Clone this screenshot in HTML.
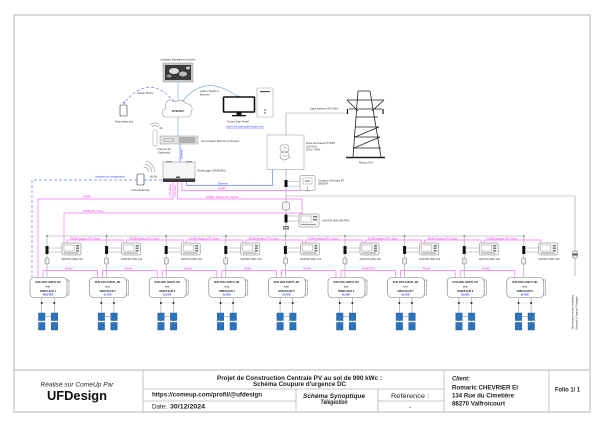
<!DOCTYPE html>
<html><head><meta charset="utf-8"><style>
html,body{margin:0;padding:0;background:#fff}
svg{display:block}
text{font-family:"Liberation Sans",Arial,sans-serif}
.t{font-size:2.5px;fill:#333}
.tc{font-size:2.5px;fill:#333;text-anchor:middle}
.pk{font-size:2.5px;fill:#e040e0}
.bl{font-size:2.6px;fill:#3040ff}
.g{stroke:#9a9a9a;stroke-width:.6;fill:none}
.p{stroke:#ff70ff;stroke-width:.7;fill:none}
.b{stroke:#6a7cff;stroke-width:.7;fill:none}
.tb{font-size:6px;fill:#222}
</style></head><body>
<svg width="605" height="427" viewBox="0 0 605 427" xmlns="http://www.w3.org/2000/svg">
<defs>
<g id="inv">
  <circle cx="17" cy="236" r=".8" fill="#333"/>
  <line x1="17" y1="236" x2="17" y2="277" stroke="#9a9a9a" stroke-width=".6"/>
  <rect x="15.5" y="246" width="3" height="8" fill="#111"/>
  <path d="M18.5 248H32M18.5 252H32" stroke="#999" stroke-width=".5"/>
  <rect x="32" y="243" width="19" height="12" rx="1.5" fill="#f7f7f7" stroke="#777" stroke-width=".5"/>
  <rect x="34" y="245" width="10" height="6" fill="#fff" stroke="#888" stroke-width=".4"/>
  <rect x="46" y="245" width="3" height="1.5" fill="#777"/>
  <rect x="46" y="247.5" width="3" height="1.5" fill="#777"/>
  <rect x="46" y="250" width="3" height="1.5" fill="#777"/>
  <rect x="34" y="252.5" width="14" height="1" fill="#999"/>
  <rect x="15" y="258" width="4" height="6" rx="1" fill="#eee" stroke="#666" stroke-width=".5"/>
  <rect x="0" y="277.5" width="37" height="20" rx="4" fill="#fff" stroke="#777" stroke-width=".6"/>
  <path d="M36 280h3v15h-3" fill="none" stroke="#777" stroke-width=".5"/>
  <path d="M11.7 297.5V330M24.3 297.5V330" class="g"/>
  <circle cx="11.7" cy="303" r="1" fill="#222"/>
  <circle cx="24.3" cy="303" r="1" fill="#222"/>
  <path d="M13.5 303H22.5" stroke="#888" stroke-width=".4" stroke-dasharray="1,1"/>
  <rect x="8.5" y="313" width="6.5" height="7.5" fill="#2b73bd" stroke="#17508c" stroke-width=".4"/>
  <rect x="8.5" y="322.5" width="6.5" height="7.5" fill="#2b73bd" stroke="#17508c" stroke-width=".4"/>
  <rect x="21.2" y="313" width="6.5" height="7.5" fill="#2b73bd" stroke="#17508c" stroke-width=".4"/>
  <rect x="21.2" y="322.5" width="6.5" height="7.5" fill="#2b73bd" stroke="#17508c" stroke-width=".4"/>
  <path d="M15 316.5H21.2" class="g"/>
</g>
</defs>

<!-- frame -->
<rect x="14" y="15" width="576" height="397" fill="none" stroke="#b5b5b5" stroke-width="1"/>
<line x1="14" y1="370" x2="590" y2="370" stroke="#b5b5b5" stroke-width="1"/>

<!-- top network -->
<text x="178" y="60.5" class="tc" font-size="2.4">Intelligent Management System</text>
<rect x="163" y="63" width="30" height="19" fill="#c8c8c8" stroke="#999" stroke-width=".5"/>
<rect x="165" y="65" width="26" height="15" fill="#3a3a3a"/>
<ellipse cx="174" cy="71" rx="5" ry="3" fill="#ddd"/>
<ellipse cx="183" cy="74" rx="4" ry="2.5" fill="#bbb"/>
<ellipse cx="169" cy="76" rx="2.5" ry="1.5" fill="#999"/>
<ellipse cx="188" cy="68" rx="2" ry="1.5" fill="#ccc"/>
<line x1="178" y1="82" x2="178" y2="101" stroke="#8fb3e6" stroke-width=".7"/>

<path d="M165 117A4.5 4.5 0 0 1 166 108.5A6 6 0 0 1 176 102A6 6 0 0 1 186 104A5 5 0 0 1 191 112A4 4 0 0 1 188 117Z" fill="#fff" stroke="#999" stroke-width=".6"/>
<text x="178" y="112" class="tc" font-size="2.4" font-weight="bold">INTERNET</text>

<path d="M174 102Q150 72 124 103" class="b" stroke-dasharray="3,2"/>
<path d="M122.6 101.5L124 104.5 125.6 102Z" fill="#6a7cff"/>
<text x="145" y="94" class="tc">Liaison WLAN</text>
<path d="M182 102Q205 72 238 97" stroke="#7da7e0" stroke-width=".7" fill="none"/>
<path d="M236.3 96.5L238.8 98.3 238.6 95.4Z" fill="#3050b0"/>
<text x="200" y="92" class="t">Liaison WLAN ou</text>
<text x="200" y="95.5" class="t">Ethernet</text>

<rect x="120" y="105" width="7" height="11" rx="1" fill="#fff" stroke="#333" stroke-width=".6"/>
<text x="124" y="122.5" class="tc">FusionSolar App</text>

<rect x="223.5" y="97" width="31" height="15" rx=".8" fill="#fff" stroke="#111" stroke-width="1.6"/>
<rect x="236.5" y="112.5" width="5" height="2.5" fill="#111"/>
<rect x="232" y="115" width="14" height="1.3" fill="#111"/>
<text x="238" y="122.5" class="tc">Fusion Solar Portail</text>
<text x="245" y="127.5" class="tc" fill="#2f3bff" style="fill:#2f3bff;text-decoration:underline">https://intl.fusionsolar.huawei.com</text>
<rect x="257" y="88" width="16" height="29" rx="1" fill="#fff" stroke="#a5a5a5" stroke-width=".6"/>
<rect x="260" y="91" width="10" height="1.2" fill="#555"/>
<circle cx="265" cy="110" r=".7" fill="#333"/>
<circle cx="265" cy="113" r=".7" fill="#333"/>

<line x1="178" y1="117" x2="178" y2="136" stroke="#8fb3e6" stroke-width=".7"/>
<rect x="160" y="136" width="38" height="8" fill="#e2e2e2" stroke="#999" stroke-width=".5"/>
<rect x="164" y="138.5" width="10" height="3" rx="1.5" fill="none" stroke="#888" stroke-width=".4"/>
<rect x="179" y="137.5" width="16" height="5" fill="#bdbdbd" stroke="#777" stroke-width=".3"/>
<path d="M181 137.5v5M183 137.5v5M185 137.5v5M187 137.5v5M189 137.5v5M191 137.5v5M193 137.5v5" stroke="#666" stroke-width=".3"/>
<text x="201" y="142" class="t">Commutateur Ethernet ou Routeur</text>

<path d="M150.5 125a6 6 0 0 1 9 0M152 127a3.6 3.6 0 0 1 6 0" fill="none" stroke="#aaa" stroke-width=".8"/>
<text x="159.5" y="129" class="t" font-size="2">4G</text>
<rect x="153" y="130" width="4" height="16" rx="1.5" fill="#fff" stroke="#999" stroke-width=".5"/>
<text x="164" y="150" class="tc">Antenne 4G</text>
<text x="164" y="153.3" class="tc">(Optionnel)</text>

<line x1="180" y1="144" x2="180" y2="162" class="b"/>
<text transform="translate(182.3 159) rotate(-90)" class="bl" font-size="2.2">Ethernet</text>

<rect x="163" y="162" width="32" height="19" fill="#f6f6f6" stroke="#888" stroke-width=".5"/>
<rect x="166" y="161" width="6" height="1.5" fill="#999"/>
<rect x="186" y="161" width="6" height="1.5" fill="#999"/>
<rect x="163" y="178.5" width="32" height="3.5" fill="#3a3a3a"/>
<rect x="176" y="176.5" width="4" height="1.5" fill="#555"/>
<text x="197" y="171.5" class="t">SmartLogger 3000A03EU</text>

<path d="M143.5 167a5 5 0 0 1 5 5M144.5 164a8 8 0 0 1 7 8M145.5 161a11 11 0 0 1 9 11" fill="none" stroke="#aaa" stroke-width=".8"/>
<text x="150" y="177.5" class="t" font-size="2">WLAN</text>
<rect x="137" y="174" width="7" height="11" rx="1" fill="#fff" stroke="#333" stroke-width=".6"/>
<text x="140.5" y="191" class="tc">FusionSolar App</text>

<!-- assistant dashed -->
<path d="M137 180H32V277M144 180H163" class="b" stroke-dasharray="3,2"/>
<text x="95" y="177.3" class="bl">Assistant de configuration</text>

<!-- smartlogger outputs -->
<path d="M173 182V199H38V277" class="p"/>
<text x="83" y="197.5" class="pk">RS485</text>
<path d="M177.5 182V199H302V215" class="p"/>
<text x="206" y="198" class="pk">RS485 / Modbus RTU Master</text>
<path d="M182 182V190.5H300V190" class="p"/>
<text x="218" y="189.6" class="pk">RS485</text>
<path d="M186.5 182V185.5H272.5V169" class="b"/>
<text x="218" y="184.5" class="bl" font-size="2.4">Ethernet</text>
<text transform="translate(171.2 197) rotate(-90)" class="pk" font-size="1.8">LAN Master</text>
<text transform="translate(175.8 197) rotate(-90)" class="pk" font-size="1.8">LAN Slave</text>

<path d="M64 243V213H302" class="p"/>
<text x="83" y="211.8" class="pk">RS485 RTU Slave</text>

<!-- transformer / grid -->
<path d="M286 135V113H348" class="g"/>
<text x="310" y="109.5" class="t">Ligne aérienne HTA 20kV</text>
<rect x="267" y="135" width="37" height="34.5" fill="#fff" stroke="#a5a5a5" stroke-width=".6"/>
<circle cx="284.5" cy="148.5" r="4.5" fill="none" stroke="#888" stroke-width=".6"/>
<circle cx="284.5" cy="155.5" r="4.5" fill="none" stroke="#888" stroke-width=".6"/>
<path d="M282.5 149l2-2.5 2 2.5M282 155l2.5 1.5 2.5-1.5M289 157l2 1" stroke="#888" stroke-width=".5" fill="none"/>
<text x="306" y="144" class="t" font-size="2.3">Poste de livraison HTA/BT</text>
<text x="306" y="147.3" class="t" font-size="2.3">1000 kVA</text>
<text x="306" y="150.6" class="t" font-size="2.3">20 kV / 400V</text>

<path d="M286 169.5V236" class="g"/>
<rect x="284.5" y="180" width="3" height="7" fill="#111"/>
<path d="M287.5 181.5H300M287.5 186H300" class="g"/>
<rect x="300" y="175.5" width="15" height="15" rx="1.5" fill="#fff" stroke="#777" stroke-width=".5"/>
<rect x="303" y="178" width="9" height="6" fill="#fff" stroke="#888" stroke-width=".4"/>
<text x="307.5" y="182" class="tc" font-size="1.8">kWh</text>
<path d="M307.5 186v5M305 191h5" stroke="#777" stroke-width=".4"/>
<text x="318" y="181.3" class="t" font-size="2.3">Compteur d'Energie BT</text>
<text x="318" y="184.6" class="t" font-size="2.3">3000304</text>

<path d="M286 196H575V276" class="g"/>
<rect x="282.5" y="202" width="7" height="8" rx="1.2" fill="#f3f3f3" stroke="#666" stroke-width=".5"/>
<rect x="284.5" y="214.5" width="3" height="8" fill="#111"/>
<path d="M287.5 216H299M287.5 221H299" class="g"/>
<rect x="299" y="214" width="20" height="13" rx="1.5" fill="#f7f7f7" stroke="#777" stroke-width=".5"/>
<rect x="301" y="216" width="10" height="6" fill="#fff" stroke="#888" stroke-width=".4"/>
<rect x="313" y="216" width="4" height="1.5" fill="#777"/>
<rect x="313" y="219" width="4" height="1.5" fill="#777"/>
<rect x="301" y="224" width="15" height="1" fill="#999"/>
<text x="322" y="221.5" class="t">JANITZA UMG 604 PRO</text>
<rect x="283" y="226" width="6" height="3.5" fill="#777"/>
<rect x="283.5" y="227.2" width="5" height="1.1" fill="#ddd"/>

<line x1="47" y1="236" x2="524" y2="236" stroke="#9a9a9a" stroke-width=".6"/>

<!-- aux supply -->
<rect x="572.5" y="251" width="5" height="7" rx="1" fill="#eee" stroke="#666" stroke-width=".5"/>
<rect x="572.5" y="253.5" width="5" height="2" fill="#555"/>
<text transform="translate(573.5 329) rotate(-90)" class="t" font-size="2.4">Alimentation circuits Auxiliaires</text>
<text transform="translate(577.5 330) rotate(-90)" class="t" font-size="2.4">(Sécurité &amp; Support Éclairage)</text>

<!-- pylon -->
<g stroke="#222" stroke-width=".8" fill="none">
<path d="M358 91H370M358 91L353 157M370 91L381 157"/>
<path d="M347 100H384M347 100L358 111M384 100L372 111M349 109H382"/>
<path d="M356 117H378M355 127H379M354 137H380M353 148H381"/>
<path d="M355 137L379 127M354 148L380 137"/>
</g>
<path d="M347.5 109v5M383 109v5" stroke="#111" stroke-width="1.2"/>
<line x1="346" y1="157.5" x2="385" y2="157.5" stroke="#222" stroke-width="1.6"/>
<text x="366" y="163.5" class="tc">Réseau HTA</text>

<!-- inverter groups -->
<use href="#inv" x="30"/>
<use href="#inv" x="89.6"/>
<use href="#inv" x="149.2"/>
<use href="#inv" x="208.8"/>
<use href="#inv" x="268.4"/>
<use href="#inv" x="328"/>
<use href="#inv" x="387.6"/>
<use href="#inv" x="447.2"/>
<use href="#inv" x="506.8"/>

<!-- pink chains -->
<path d="M67 243V240H123.6V243M126.6 243V240H183.2V243M186.2 243V240H242.8V243M245.8 243V240H302.4V243M305.4 243V240H362V243M365 243V240H421.6V243M424.6 243V240H481.2V243M484.2 243V240H540.8V243" class="p"/>
<path d="M43 277.5V270.5H97.6V277.5M102.6 277.5V270.5H157.2V277.5M162.2 277.5V270.5H216.8V277.5M221.8 277.5V270.5H276.4V277.5M281.4 277.5V270.5H336V277.5M341 277.5V270.5H395.6V277.5M400.6 277.5V270.5H455.2V277.5M460.2 277.5V270.5H514.8V277.5" class="p"/>

<g class="pk">
<text x="70" y="239.3">RS485 Modbus RTU Slave</text>
<text x="129.6" y="239.3">RS485 Modbus RTU Slave</text>
<text x="189.2" y="239.3">RS485 Modbus RTU Slave</text>
<text x="248.8" y="239.3">RS485 Modbus RTU Slave</text>
<text x="308.4" y="239.3">RS485 Modbus RTU Slave</text>
<text x="368" y="239.3">RS485 Modbus RTU Slave</text>
<text x="427.6" y="239.3">RS485 Modbus RTU Slave</text>
<text x="487.2" y="239.3">RS485 Modbus RTU Slave</text>
<text x="65" y="269.5">RS485</text>
<text x="124.6" y="269.5">RS485</text>
<text x="184.2" y="269.5">RS485</text>
<text x="243.8" y="269.5">RS485</text>
<text x="303.4" y="269.5">RS485</text>
<text x="362" y="269.5">RS485 RTU</text>
<text x="422.6" y="269.5">RS485</text>
<text x="482.2" y="269.5">RS485</text>
</g>

<!-- janitza labels -->
<g class="tc" font-size="2.3">
<text x="72" y="260">JANITZA UMG 104</text>
<text x="131.6" y="260">JANITZA UMG 104</text>
<text x="191.2" y="260">JANITZA UMG 104</text>
<text x="250.8" y="260">JANITZA UMG 104</text>
<text x="310.4" y="260">JANITZA UMG 104</text>
<text x="370" y="260">JANITZA UMG 104</text>
<text x="429.6" y="260">JANITZA UMG 104</text>
<text x="489.2" y="260">JANITZA UMG 104</text>
<text x="548.8" y="260">JANITZA UMG 104</text>
</g>

<!-- inverter texts -->
<g font-size="2.5" text-anchor="middle" fill="#222" font-weight="bold">
<text x="48" y="283">SUN 2000 100KTL-M1</text><text x="48" y="287.5" font-size="2">N°01</text><text x="48" y="292">ONDULEUR 1</text><text x="48" y="295.6" fill="#2f3bff">MASTER</text>
<text x="107.6" y="283">SUN 2000 100KTL-M1</text><text x="107.6" y="287.5" font-size="2">N°02</text><text x="107.6" y="292">ONDULEUR 2</text><text x="107.6" y="295.6" fill="#2f3bff">SLAVE</text>
<text x="167.2" y="283">SUN 2000 100KTL-M1</text><text x="167.2" y="287.5" font-size="2">N°03</text><text x="167.2" y="292">ONDULEUR 3</text><text x="167.2" y="295.6" fill="#2f3bff">SLAVE</text>
<text x="226.8" y="283">SUN 2000 100KTL-M1</text><text x="226.8" y="287.5" font-size="2">N°04</text><text x="226.8" y="292">ONDULEUR 4</text><text x="226.8" y="295.6" fill="#2f3bff">SLAVE</text>
<text x="286.4" y="283">SUN 2000 100KTL-M1</text><text x="286.4" y="287.5" font-size="2">N°05</text><text x="286.4" y="292">ONDULEUR 5</text><text x="286.4" y="295.6" fill="#2f3bff">SLAVE</text>
<text x="346" y="283">SUN 2000 100KTL-M1</text><text x="346" y="287.5" font-size="2">N°06</text><text x="346" y="292">ONDULEUR 6</text><text x="346" y="295.6" fill="#2f3bff">SLAVE</text>
<text x="405.6" y="283">SUN 2000 100KTL-M1</text><text x="405.6" y="287.5" font-size="2">N°07</text><text x="405.6" y="292">ONDULEUR 7</text><text x="405.6" y="295.6" fill="#2f3bff">SLAVE</text>
<text x="465.2" y="283">SUN 2000 100KTL-M1</text><text x="465.2" y="287.5" font-size="2">N°08</text><text x="465.2" y="292">ONDULEUR 8</text><text x="465.2" y="295.6" fill="#2f3bff">SLAVE</text>
<text x="524.8" y="283">SUN 2000 100KTL-M1</text><text x="524.8" y="287.5" font-size="2">N°09</text><text x="524.8" y="292">ONDULEUR 9</text><text x="524.8" y="295.6" fill="#2f3bff">SLAVE</text>
</g>

<!-- title block -->
<g stroke="#b5b5b5" stroke-width=".8">
<line x1="143" y1="370" x2="143" y2="412"/>
<line x1="444" y1="370" x2="444" y2="412"/>
<line x1="549" y1="370" x2="549" y2="412"/>
<line x1="143" y1="389" x2="444" y2="389"/>
<line x1="296" y1="389" x2="296" y2="412"/>
<line x1="378" y1="389" x2="378" y2="412"/>
<line x1="143" y1="401" x2="296" y2="401"/>
<line x1="378" y1="401" x2="444" y2="401"/>
</g>
<text x="77" y="386.5" class="tb" font-style="italic" text-anchor="middle" textLength="73" lengthAdjust="spacingAndGlyphs">Réalisé sur ComeUp Par</text>
<text x="77" y="400" font-size="13" font-weight="bold" fill="#111" text-anchor="middle" textLength="60" lengthAdjust="spacingAndGlyphs">UFDesign</text>
<text x="299.5" y="380" class="tb" font-size="5.5" font-weight="bold" text-anchor="middle" textLength="165" lengthAdjust="spacingAndGlyphs">Projet de Construction Centrale PV au sol de 990 kWc :</text>
<text x="299.5" y="386.2" class="tb" font-size="5.5" font-weight="bold" text-anchor="middle" textLength="93" lengthAdjust="spacingAndGlyphs">Schéma Coupure d'urgence DC</text>
<text x="152" y="396.5" class="tb" font-size="5.5" font-weight="bold" textLength="110" lengthAdjust="spacingAndGlyphs">https://comeup.com/profil/@ufdesign</text>
<text x="152" y="408.5" class="tb" font-size="5.5" textLength="15" lengthAdjust="spacingAndGlyphs">Date:</text>
<text x="170" y="408.5" class="tb" font-size="6.3" font-weight="bold" textLength="35" lengthAdjust="spacingAndGlyphs">30/12/2024</text>
<text x="334" y="398" class="tb" font-size="5.5" font-weight="bold" font-style="italic" text-anchor="middle" textLength="62" lengthAdjust="spacingAndGlyphs">Schéma Synoptique</text>
<text x="334" y="404" class="tb" font-size="5.5" font-weight="bold" font-style="italic" text-anchor="middle" textLength="27" lengthAdjust="spacingAndGlyphs">Télégestion</text>
<text x="410" y="398" class="tb" font-size="5.5" text-anchor="middle" textLength="38" lengthAdjust="spacingAndGlyphs">Référence :</text>
<text x="410" y="409" class="tb" font-size="5.5" text-anchor="middle">-</text>
<text x="452" y="380.5" class="tb" font-size="5.5" font-weight="bold" font-style="italic" textLength="18" lengthAdjust="spacingAndGlyphs">Client:</text>
<text x="452" y="389.5" class="tb" font-size="5.8" font-weight="bold" textLength="66" lengthAdjust="spacingAndGlyphs">Romaric CHEVRIER EI</text>
<text x="452" y="397.5" class="tb" font-size="5.8" font-weight="bold" textLength="62" lengthAdjust="spacingAndGlyphs">134 Rue du Cimetière</text>
<text x="452" y="405.3" class="tb" font-size="5.8" font-weight="bold" textLength="53" lengthAdjust="spacingAndGlyphs">88270 Valfroicourt</text>
<text x="555" y="391.5" class="tb" font-size="5.8" font-weight="bold" textLength="25" lengthAdjust="spacingAndGlyphs">Folio 1/ 1</text>
</svg>
</body></html>
